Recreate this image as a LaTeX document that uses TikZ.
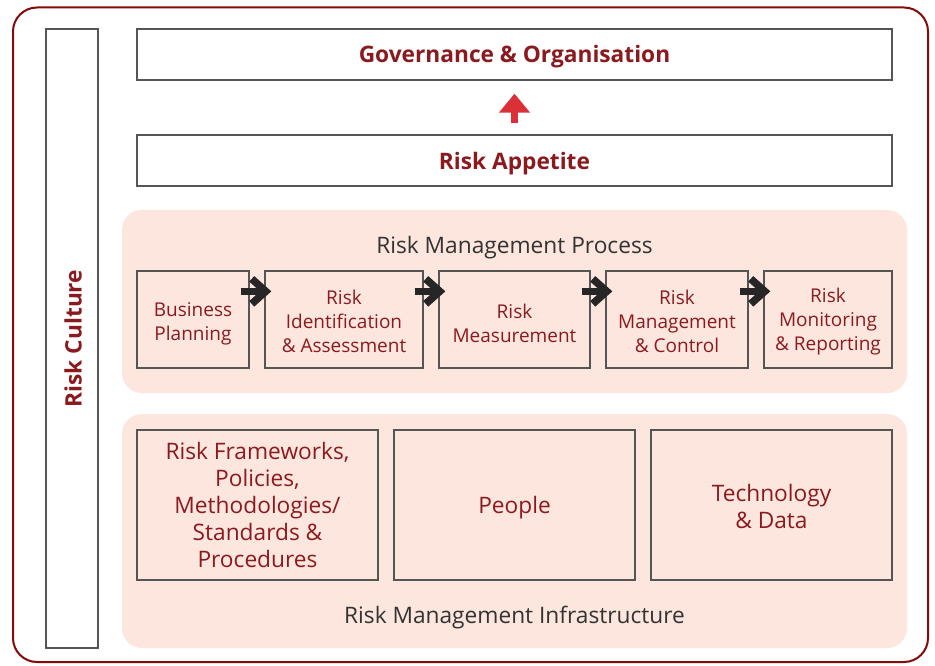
\documentclass[tikz,border=0pt]{standalone}
\usepackage{fontspec}
\setmainfont{Open Sans}
\usetikzlibrary{arrows.meta}
\definecolor{dred}{HTML}{8B1A1F}
\definecolor{frame}{HTML}{850A0A}
\definecolor{panel}{HTML}{FDE6DE}
\definecolor{boxline}{HTML}{555555}
\definecolor{txtgray}{HTML}{333333}
\definecolor{upred}{HTML}{DB3038}
\tikzset{
  whitebox/.style={draw=boxline, line width=1.3pt, fill=white, inner sep=0pt},
  headtxt/.style={font=\fontsize{22.7}{27}\selectfont\bfseries, text=dred, inner sep=0pt},
  procbox/.style={draw=boxline, line width=1.3pt, fill=panel, inner sep=0pt, minimum height=97pt},
  proctxt/.style={align=center, text=dred, inner sep=0pt, font=\fontsize{19}{24}\selectfont},
  infbox/.style={draw=boxline, line width=1.3pt, fill=panel, inner sep=0pt, minimum height=150pt, minimum width=241pt},
  inftxt/.style={align=center, text=dred, inner sep=0pt, font=\fontsize{22.7}{27}\selectfont},
  panelbox/.style={fill=panel, rounded corners=20pt, inner sep=0pt, minimum width=785pt},
  paneltitle/.style={text=txtgray, inner sep=0pt, font=\fontsize{22.7}{27}\selectfont},
  flow/.style={line width=7.5pt, black!85, -{Straight Barb[length=14pt,width=25pt]}},
  upflow/.style={line width=7.5pt, upred, -{Triangle[length=19pt,width=30pt]}}
}
\begin{document}
\begin{tikzpicture}[x=1pt,y=-1pt]
\useasboundingbox (0,0) rectangle (935,666);
\fill[white] (0,0) rectangle (935,666);
\draw[frame, line width=2pt, rounded corners=24pt] (13,7.5) rectangle (928,662);
% left column
\node[whitebox, minimum width=52pt, minimum height=619pt] (culture) at (72,338.5) {};
\node[headtxt, rotate=90] (culturetxt) at ([xshift=1pt]culture.center) {Risk Culture};
% top boxes
\node[whitebox, minimum width=755pt, minimum height=51pt] (gov) at (514.5,54.5) {};
\node[headtxt] (govtxt) at ([yshift=-2pt]gov.center) {Governance \& Organisation};
\node[whitebox, minimum width=755pt, minimum height=51pt] (ra) at (514.5,160.5) {};
\node[headtxt] (ratxt) at ([yshift=-3.5pt]ra.center) {Risk Appetite};
\draw[upflow, shorten <=11pt, shorten >=13pt] (ra.north) -- (gov.south);
% process panel
\node[panelbox, minimum height=183pt] (procpanel) at (514.5,301.5) {};
\node[paneltitle] (proctitle) at (514.5,248) {Risk Management Process};
\node[procbox, minimum width=112pt] (bp) at (193,319.5) {};
\node[procbox, minimum width=158pt] (ri) at (344,319.5) {};
\node[procbox, minimum width=151pt] (rm) at (514.5,319.5) {};
\node[procbox, minimum width=142pt] (rmc) at (677,319.5) {};
\node[procbox, minimum width=128pt] (rmr) at (828,319.5) {};
\node[proctxt] (bptxt) at ([yshift=-4pt]bp.center) {Business\\Planning};
\node[proctxt] (ritxt) at ([yshift=-2pt]ri.center) {Risk\\Identification\\\& Assessment};
\node[proctxt] (rmtxt) at ([yshift=-4pt]rm.center) {Risk\\Measurement};
\node[proctxt] (rmctxt) at ([yshift=-2pt]rmc.center) {Risk\\Management\\\& Control};
\node[proctxt] (rmrtxt) at ([yshift=-2pt]rmr.center) {Risk\\Monitoring\\\& Reporting};
\foreach \a/\b in {bp/ri, ri/rm, rm/rmc, rmc/rmr}{
  \draw[flow] ([xshift=-9pt,yshift=-21pt]\a.north east) -- ([xshift=7pt,yshift=-21pt]\b.north west);
}
% infrastructure panel
\node[panelbox, minimum height=234pt] (infpanel) at (514.5,531) {};
\node[infbox] (fw) at (257.5,505) {};
\node[infbox] (people) at (514.5,505) {};
\node[infbox] (tech) at (771.5,505) {};
\node[inftxt] (fwtxt) at ([yshift=0pt]fw.center) {Risk Frameworks,\\Policies,\\Methodologies/\\Standards \&\\Procedures};
\node[inftxt] (peopletxt) at ([yshift=-3pt]people.center) {People};
\node[inftxt] (techtxt) at ([yshift=-1pt]tech.center) {Technology\\\& Data};
\node[paneltitle] (inftitle) at (514.5,618) {Risk Management Infrastructure};
\end{tikzpicture}
\end{document}
